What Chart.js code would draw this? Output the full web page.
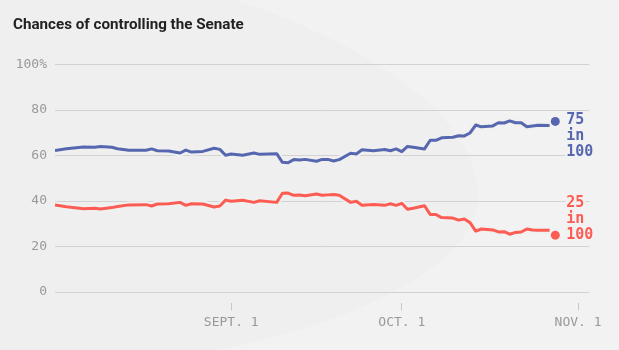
<!DOCTYPE html>
<html>
<head>
<meta charset="utf-8">
<script src="https://cdn.jsdelivr.net/npm/chart.js@4.4.1/dist/chart.umd.min.js"></script>
<style>
  html, body { margin: 0; padding: 0; background: #f0f0f0; }
  #wrap { position: relative; width: 619px; height: 350px; overflow: hidden; }
  #chart { position: absolute; left: 0; top: 0; }
  #title {
    position: absolute; left: 13px; top: 14px; margin: 0;
    font: bold 15.2px Roboto, sans-serif; line-height: 20px; color: #222;
  }
</style>
</head>
<body>
<div id="wrap">
  <canvas id="chart" width="619" height="350"></canvas>
  <h1 id="title">Chances of controlling the Senate</h1>
</div>
<script>
// days counted from Aug. 1
const days = [0, 2, 5, 7, 8, 10, 11, 13, 16, 17, 18, 20, 22, 23, 24, 26, 28, 29, 30, 31,
  33, 35, 36, 39, 40, 41, 42, 43, 44, 46, 47, 48, 49, 50, 52, 53, 54, 56, 58, 59,
  60, 61, 62, 63, 65, 66, 67, 68, 70, 71, 72, 73, 74, 75, 77, 78, 79, 80, 81, 82,
  83, 84, 85, 87];
const demChance = [62.2, 63.0, 63.7, 63.6, 64.0, 63.6, 63.0, 62.3, 62.3, 62.9, 62.1, 62.0, 61.1, 62.4, 61.5, 61.8, 63.2, 62.7, 60.1, 60.7,
  60.1, 61.1, 60.5, 60.8, 57.0, 56.8, 58.2, 58.0, 58.3, 57.5, 58.3, 58.3, 57.6, 58.2, 61.0, 60.7, 62.5, 62.1, 62.6, 62.1,
  62.9, 61.7, 64.0, 63.6, 62.9, 66.7, 66.7, 67.8, 68.0, 68.7, 68.6, 69.9, 73.4, 72.6, 73.0, 74.4, 74.3, 75.2, 74.4, 74.4,
  72.6, 73.0, 73.3, 73.2];
const repChance = [38.3, 37.5, 36.6, 36.8, 36.5, 37.1, 37.6, 38.3, 38.4, 37.8, 38.7, 38.8, 39.4, 38.1, 38.8, 38.7, 37.4, 37.8, 40.4, 39.9,
  40.3, 39.4, 40.1, 39.4, 43.4, 43.5, 42.5, 42.6, 42.3, 43.1, 42.5, 42.7, 42.9, 42.5, 39.4, 39.9, 38.1, 38.5, 38.1, 38.8,
  38.1, 39.0, 36.4, 36.8, 37.9, 34.1, 34.1, 32.7, 32.5, 31.6, 32.1, 30.5, 26.8, 27.7, 27.3, 26.4, 26.5, 25.4, 26.2, 26.4,
  27.7, 27.3, 27.1, 27.1];

const finalDay = 88;
const demFinal = 75;
const repFinal = 25;

const yTicks = [0, 20, 40, 60, 80, 100];
const xTickDays = [31, 61, 92];
const xTickLabels = ['SEPT. 1', 'OCT. 1', 'NOV. 1'];

const demColor = '#5667b0';
const repColor = '#fd5c53';
const haloColor = '#f0f0f0';
const monoFont = '"DejaVu Sans Mono", monospace';

const toPoints = (values) => days.map((d, i) => ({ x: d, y: values[i] }));

// faint light/dark backdrop
const backdrop = {
    id: 'backdrop',
    beforeDraw(chart) {
        const ctx = chart.ctx;
        ctx.save();
        ctx.fillStyle = '#f2f2f2';
        ctx.fillRect(0, 0, chart.width, chart.height);
        ctx.fillStyle = '#efefef';
        ctx.beginPath();
        ctx.moveTo(0, 0);
        ctx.lineTo(235, 0);
        ctx.bezierCurveTo(330, 30, 470, 100, 478, 190);
        ctx.bezierCurveTo(485, 270, 330, 330, 215, 350);
        ctx.lineTo(0, 350);
        ctx.closePath();
        ctx.fill();
        ctx.restore();
    }
};

// "75 in 100" style labels next to the final dots
const endLabels = {
    id: 'endLabels',
    afterDatasetsDraw(chart) {
        const ctx = chart.ctx;
        const x = chart.scales.x.getPixelForValue(finalDay) + 11;
        ctx.save();
        ctx.font = 'bold 15px ' + monoFont;
        ctx.textBaseline = 'middle';
        [[demFinal, demColor, -1], [repFinal, repColor, -32]].forEach(([value, color, shift]) => {
            const y = chart.scales.y.getPixelForValue(value) + shift;
            [String(value), 'in', '100'].forEach((text, i) => {
                const w = ctx.measureText(text).width;
                ctx.fillStyle = '#f2f2f2';
                ctx.fillRect(x - 1, y + i * 16 - 6, w + 2, 12);
                ctx.fillStyle = color;
                ctx.fillText(text, x, y + i * 16);
            });
        });
        ctx.restore();
    }
};

new Chart(document.getElementById('chart'), {
    type: 'line',
    data: {
        datasets: [
            { data: [{ x: finalDay, y: demFinal }], showLine: false, pointRadius: 4.5, pointBackgroundColor: demColor, pointBorderWidth: 0, order: 0 },
            { data: [{ x: finalDay, y: repFinal }], showLine: false, pointRadius: 4.5, pointBackgroundColor: repColor, pointBorderWidth: 0, order: 0 },
            { data: toPoints(demChance), borderColor: demColor, borderWidth: 3, pointRadius: 0, tension: 0, borderJoinStyle: 'round', order: 1 },
            { data: toPoints(repChance), borderColor: repColor, borderWidth: 3, pointRadius: 0, tension: 0, borderJoinStyle: 'round', order: 1 },
            { data: toPoints(demChance), borderColor: haloColor, borderWidth: 7, pointRadius: 0, tension: 0, order: 2 },
            { data: toPoints(repChance), borderColor: haloColor, borderWidth: 7, pointRadius: 0, tension: 0, order: 2 }
        ]
    },
    options: {
        responsive: false,
        animation: false,
        layout: { padding: { left: 0, top: 64.5, right: 29.6, bottom: 14.6 } },
        plugins: {
            legend: { display: false },
            tooltip: { enabled: false }
        },
        scales: {
            x: {
                type: 'linear',
                min: 0,
                max: 94,
                afterBuildTicks: (axis) => { axis.ticks = xTickDays.map(v => ({ value: v })); },
                afterFit: (axis) => { axis.height = 32; },
                border: { display: false },
                grid: { drawOnChartArea: false, drawTicks: true, tickLength: 7, color: '#c8c8c8' },
                ticks: {
                    padding: 4,
                    maxRotation: 0,
                    autoSkip: false,
                    color: '#999',
                    font: { family: monoFont, size: 13 },
                    callback: (v) => xTickLabels[xTickDays.indexOf(v)]
                }
            },
            y: {
                min: -5,
                max: 100,
                afterBuildTicks: (axis) => { axis.ticks = yTicks.map(v => ({ value: v })); },
                afterFit: (axis) => { axis.width = 55; },
                border: { display: false },
                grid: { color: '#d2d2d2', lineWidth: 1, drawTicks: false },
                ticks: {
                    padding: 8,
                    color: '#999',
                    font: { family: monoFont, size: 13 },
                    callback: (v) => v === 100 ? '100%' : v
                }
            }
        }
    },
    plugins: [backdrop, endLabels]
});
</script>
</body>
</html>
